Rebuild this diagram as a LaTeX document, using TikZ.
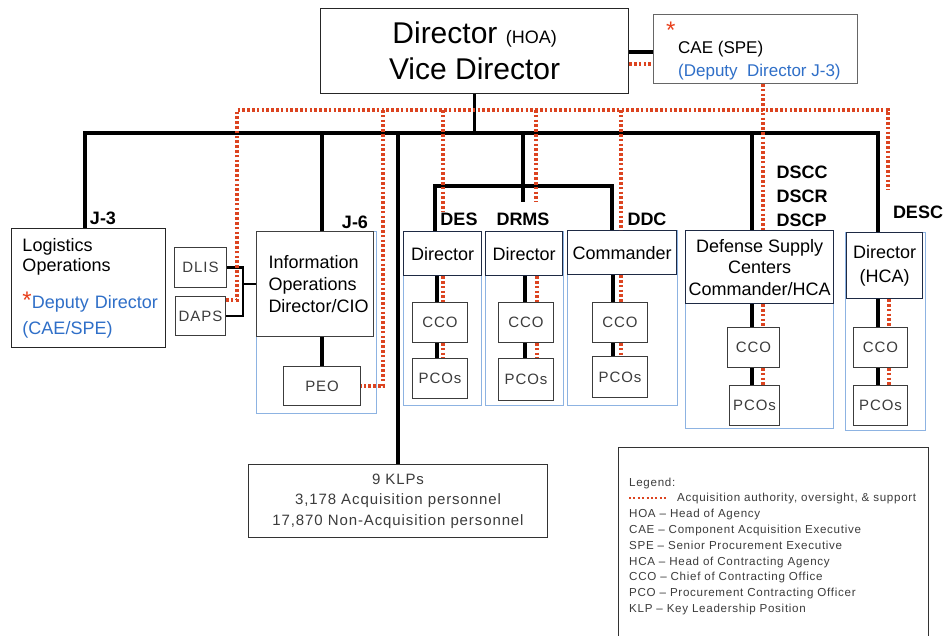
\documentclass[tikz,border=0pt]{standalone}
\usepackage{fontspec}
\usepackage{xcolor}
\usepackage{tikz}
\setmainfont{Liberation Sans}
\newfontfamily\thinfont[LetterSpace=6]{Liberation Sans}

\definecolor{acqred}{HTML}{DC4420}
\definecolor{starred}{HTML}{E8401C}
\definecolor{depblue}{HTML}{2F6FC8}
\definecolor{colblue}{HTML}{8DB3E2}
\definecolor{hdrline}{HTML}{1E2A44}
\definecolor{boxgray}{HTML}{3C3C3C}

\tikzset{
  conn/.style={line width=3.2pt},
  acq/.style={draw=acqred, line width=3.2pt, dash pattern=on 2.6pt off 2.2pt},
  box/.style={draw=boxgray, fill=white, line width=1pt, inner sep=0pt, anchor=north west},
  colbox/.style={draw=colblue, fill=white, line width=1.2pt, inner sep=0pt, anchor=north west},
  hdrbox/.style={draw=hdrline, fill=white, line width=1.2pt, inner sep=0pt, anchor=north west,
    align=center, font=\fontsize{18}{21.5}\selectfont},
  smallbox/.style={box, font=\thinfont\fontsize{15}{18}\selectfont, text=boxgray},
  unitlbl/.style={inner sep=0pt, font=\bfseries\fontsize{18}{24}\selectfont}
}

\begin{document}
\begin{tikzpicture}[x=1pt, y=-1pt]
    \useasboundingbox (0,0) rectangle (946,636);

    % Director and CAE
    \node[box, draw=black!85, line width=1.2pt, minimum width=308, minimum height=85, align=center,
      font=\fontsize{30}{36}\selectfont, text=black] (dir) at (320,8)
      {Director {\fontsize{18}{18}\selectfont (HOA)}\\Vice Director};
    \node[box, draw=black!60, minimum width=204, minimum height=69] (cae) at (653,14) {};
    \node[anchor=west, inner sep=0pt, align=left, font=\fontsize{17}{23}\selectfont] (caetxt) at (678,61)
      {\llap{\smash{\raisebox{15pt}{\textcolor{starred}{\fontsize{24}{24}\selectfont *}}}\,}CAE (SPE)\\
       \llap{\,}\textcolor{depblue}{(Deputy\ \ Director J-3)}};

    % J-3 and J-6
    \node[box, draw=black!85, minimum width=154, minimum height=119, text width=132, inner xsep=11,
      align=left, font=\fontsize{18}{20}\selectfont, text=black] (logops) at (11,228)
      {Logistics\\Operations\\[17pt]
       \mbox{\smash{\textcolor{starred}{\fontsize{24}{24}\selectfont *}}\textcolor{depblue}{Deputy Director}}\\[6pt]
       \textcolor{depblue}{(CAE/SPE)}};
    \node[smallbox, minimum width=52, minimum height=40] (dlis) at (174,247) {DLIS};
    \node[smallbox, minimum width=50, minimum height=39] (daps) at (175,296) {DAPS};
    \node[colbox, minimum width=120, minimum height=182] (infocol) at (256,231) {};
    \node[box, draw=black!75, minimum width=117, minimum height=105, text width=93, inner xsep=12,
      align=left, font=\fontsize{18}{22}\selectfont, text=black] (infohdr) at (256,231)
      {Information\\Operations\\Director/CIO};
    \node[smallbox, minimum width=77, minimum height=39] (peo) at (283,366) {PEO};

    % DES, DRMS, DDC
    \node[colbox, minimum width=78, minimum height=174] (descol) at (403,231) {};
    \node[hdrbox, minimum width=78, minimum height=44] (deshdr) at (403,231) {Director};
    \node[smallbox, minimum width=55, minimum height=40] (descco) at (412,302) {CCO};
    \node[smallbox, minimum width=55, minimum height=40] (despco) at (412,358) {PCOs};

    \node[colbox, minimum width=78, minimum height=174] (drmscol) at (485,231) {};
    \node[hdrbox, minimum width=77, minimum height=44] (drmshdr) at (485,231) {Director};
    \node[smallbox, minimum width=55, minimum height=40] (drmscco) at (498,302) {CCO};
    \node[smallbox, minimum width=55, minimum height=42] (drmspco) at (498,358) {PCOs};

    \node[colbox, minimum width=110, minimum height=175] (ddccol) at (567,230) {};
    \node[hdrbox, minimum width=109, minimum height=44] (ddchdr) at (567,230) {Commander};
    \node[smallbox, minimum width=55, minimum height=40] (ddccco) at (592,302) {CCO};
    \node[smallbox, minimum width=55, minimum height=41] (ddcpco) at (592,356) {PCOs};

    % supply centers and DESC
    \node[colbox, minimum width=148, minimum height=198] (dsccol) at (685,230) {};
    \node[hdrbox, minimum width=148, minimum height=73] (dschdr) at (685,230)
      {Defense Supply\\Centers\\Commander/HCA};
    \node[smallbox, minimum width=52, minimum height=40] (dsccco) at (727,327) {CCO};
    \node[smallbox, minimum width=50, minimum height=40] (dscpco) at (729,385) {PCOs};

    \node[colbox, minimum width=80, minimum height=198] (desccol) at (845,232) {};
    \node[hdrbox, minimum width=76, minimum height=66, font=\fontsize{18}{24}\selectfont] (deschdr) at (846,232)
      {Director\\(HCA)};
    \node[smallbox, minimum width=54, minimum height=40] (desccco) at (853,327) {CCO};
    \node[smallbox, minimum width=54, minimum height=40] (descpco) at (853,385) {PCOs};

    % unit labels
    \node[unitlbl] (j3) at (103,218) {J-3};
    \node[unitlbl] (j6) at (355,222) {J-6};
    \node[unitlbl] (deslbl) at (459,219) {DES};
    \node[unitlbl] (drmslbl) at (523,219) {DRMS};
    \node[unitlbl] (ddclbl) at (647,219) {DDC};
    \node[unitlbl, align=left] (dsclbl) at (802,196) {DSCC\\DSCR\\DSCP};
    \node[unitlbl] (desclbl) at (918,212) {DESC};

    % personnel totals
    \node[box, draw=black!80, minimum width=299, minimum height=73, align=center,
      font=\thinfont\fontsize{15}{20.5}\selectfont, text=boxgray] (klp) at (248,464)
      {9 KLPs\\3,178 Acquisition personnel\\17,870 Non-Acquisition personnel};

    % legend
    \node[box, draw=black!80, minimum width=310, minimum height=200] (legend) at (618,447) {};
    \node[anchor=north west, inner sep=0pt, align=left, font=\thinfont\fontsize{11.6}{15.8}\selectfont,
      text=boxgray] (legtxt) at (629,477.5)
      {Legend:\\
       \hspace*{48pt}Acquisition authority, oversight, \& support\\
       HOA – Head of Agency\\
       CAE – Component Acquisition Executive\\
       SPE – Senior Procurement Executive\\
       HCA – Head of Contracting Agency\\
       CCO – Chief of Contracting Office\\
       PCO – Procurement Contracting Officer\\
       KLP – Key Leadership Position};
    \draw[acq, line width=2.4pt, dash pattern=on 2pt off 2.4pt] (629,498) -- (667,498);

    % line of command
    \coordinate (busl) at (85,133);
    \coordinate (busr) at (878,133);
    \draw[conn] (logops.north -| busl) -- (busl) -- (busr) -- (deschdr.north -| busr);
    \draw[conn] (dir.south) -- (dir.south |- busl);
    \draw[conn] (dir.east |- 0,52) -- (cae.west |- 0,52);
    \draw[conn] (infohdr.north -| 322,0) -- (322,133);
    \draw[conn] (klp.north) -- (klp.north |- busl);
    \draw[conn] (drmslbl.north |- busl) -- ([yshift=10pt]drmslbl.north);
    \draw[conn] (deshdr.north -| 435,0) |- (612,186) -- (ddchdr.north -| 612,0);
    \draw[conn] (dschdr.north -| 752,0) -- (752,133);
    \draw[conn] (peo.north |- infohdr.south) -- (peo.north);
    \coordinate (brk) at (243,284);
    \draw[conn, line width=2.8pt] (dlis.east) -| (brk) |- (daps.east);
    \draw[conn, line width=2.8pt] (brk) -- (brk -| infocol.west);

    % acquisition authority
    \draw[acq] (dir.east |- 0,64) -- (cae.west |- 0,64);
    \draw[acq] (daps.east |- 0,300) -| (237,110) -- (888,110) -- (888,190);
    \draw[acq] (383,110) |- (peo.east);
    \draw[acq] (443,110) -- (deslbl.north -| 443,0);
    \draw[acq] (536,110) -- (536,202);
    \draw[acq] (621,110) -- (ddchdr.north -| 621,0);
    \draw[acq] (cae.south -| 763,0) -- (dschdr.north -| 763,0);

    \foreach \col/\sx/\dx in {des/437/443, drms/525/537, ddc/613/621, dsc/752/763, desc/878/889} {
        \draw[conn] (\col hdr.south -| \sx,0) -- (\col cco.north -| \sx,0);
        \draw[conn] (\col cco.south -| \sx,0) -- (\col pco.north -| \sx,0);
        \draw[acq] (\col hdr.south -| \dx,0) -- (\col cco.north -| \dx,0);
        \draw[acq] (\col cco.south -| \dx,0) -- (\col pco.north -| \dx,0);
    }
\end{tikzpicture}
\end{document}
